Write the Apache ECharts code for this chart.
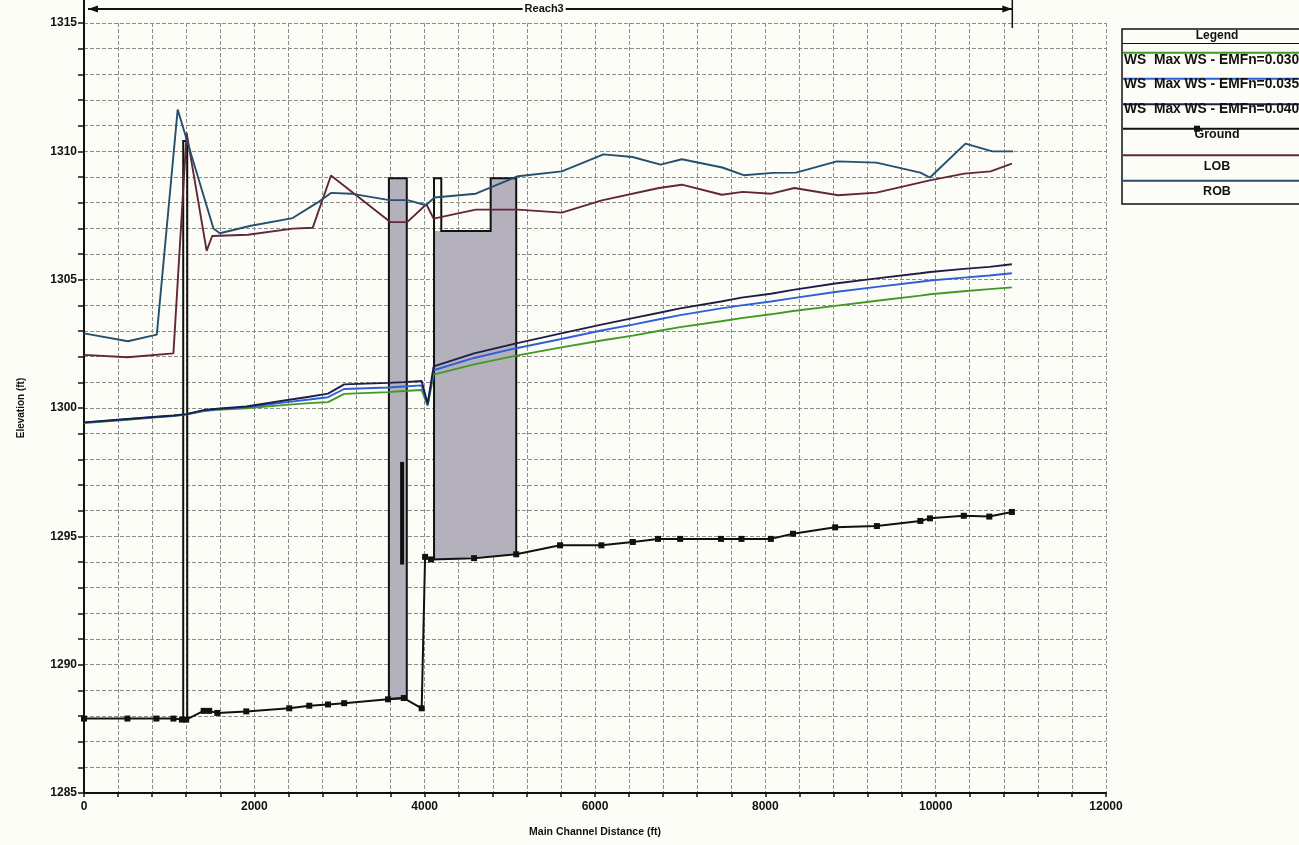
<!DOCTYPE html>
<html>
<head>
<meta charset="utf-8">
<script src="https://cdn.jsdelivr.net/npm/echarts@6/dist/echarts.min.js"></script>
<style>
html,body{margin:0;padding:0;background:#fdfdf8;}
#c{width:1299px;height:845px;}
</style>
</head>
<body>
<div id="c"></div>
<script>
// ---------------- DATA ----------------
const xTicks = [0, 2000, 4000, 6000, 8000, 10000, 12000];
const yTicks = [1285, 1290, 1295, 1300, 1305, 1310, 1315];

const groundX = [0, 510, 850, 1050, 1150, 1200, 1405, 1470, 1565, 1905, 2410, 2645, 2865, 3055, 3570, 3755, 3965, 4005, 4075, 4580, 5075, 5590, 6075, 6444, 6740, 7000, 7480, 7720, 8065, 8325, 8820, 9310, 9820, 9933, 10330, 10630, 10895];
const groundY = [1287.9, 1287.9, 1287.9, 1287.9, 1287.86, 1287.86, 1288.2, 1288.2, 1288.12, 1288.18, 1288.3, 1288.4, 1288.45, 1288.5, 1288.65, 1288.7, 1288.3, 1294.2, 1294.1, 1294.15, 1294.3, 1294.65, 1294.65, 1294.78, 1294.9, 1294.9, 1294.9, 1294.9, 1294.9, 1295.1, 1295.35, 1295.4, 1295.6, 1295.7, 1295.8, 1295.77, 1295.95];

const wsX = [0, 510, 850, 1050, 1200, 1405, 1565, 1905, 2410, 2645, 2865, 3055, 3570, 3755, 3965, 4035, 4105, 4580, 5075, 5590, 6075, 6444, 6740, 7000, 7480, 7720, 8065, 8325, 8820, 9310, 9820, 9933, 10330, 10630, 10895];
const ws040 = [1299.44, 1299.57, 1299.66, 1299.71, 1299.76, 1299.92, 1299.97, 1300.06, 1300.32, 1300.44, 1300.56, 1300.92, 1300.98, 1301.01, 1301.05, 1300.16, 1301.62, 1302.13, 1302.52, 1302.9, 1303.25, 1303.5, 1303.7, 1303.88, 1304.15, 1304.3, 1304.45, 1304.6, 1304.85, 1305.05, 1305.25, 1305.3, 1305.42, 1305.5, 1305.6];
const ws035 = [1299.43, 1299.56, 1299.65, 1299.7, 1299.75, 1299.9, 1299.95, 1300.03, 1300.24, 1300.33, 1300.42, 1300.74, 1300.8, 1300.84, 1300.88, 1300.14, 1301.47, 1301.95, 1302.33, 1302.68, 1303.02, 1303.25, 1303.45, 1303.62, 1303.88, 1304.0, 1304.15, 1304.28, 1304.52, 1304.72, 1304.92, 1304.97, 1305.08, 1305.16, 1305.25];
const ws030 = [1299.41, 1299.54, 1299.64, 1299.69, 1299.74, 1299.88, 1299.93, 1299.99, 1300.13, 1300.19, 1300.23, 1300.55, 1300.62, 1300.66, 1300.7, 1300.08, 1301.3, 1301.7, 1302.04, 1302.35, 1302.63, 1302.82, 1303.0, 1303.15, 1303.38, 1303.5, 1303.65, 1303.78, 1303.98, 1304.18, 1304.38, 1304.43, 1304.55, 1304.63, 1304.7];

const lobX = [0, 510, 1050, 1205, 1440, 1505, 1925, 2450, 2685, 2900, 3600, 3795, 4020, 4105, 4600, 5095, 5610, 6080, 6750, 7020, 7490, 7735, 8070, 8340, 8855, 9305, 9930, 10335, 10645, 10895];
const lobY = [1302.07, 1301.98, 1302.13, 1310.72, 1306.12, 1306.7, 1306.75, 1306.99, 1307.02, 1309.06, 1307.24, 1307.24, 1307.94, 1307.38, 1307.73, 1307.73, 1307.61, 1308.09, 1308.57, 1308.7, 1308.31, 1308.42, 1308.35, 1308.57, 1308.29, 1308.39, 1308.87, 1309.13, 1309.22, 1309.52];

const robX = [0, 515, 855, 1100, 1520, 1595, 1960, 2450, 2740, 2900, 3135, 3585, 3800, 4015, 4115, 4600, 5095, 5610, 6100, 6440, 6770, 7020, 7495, 7745, 8090, 8360, 8840, 9305, 9820, 9933, 10350, 10665, 10910];
const robY = [1302.91, 1302.6, 1302.86, 1311.63, 1306.99, 1306.81, 1307.1, 1307.4, 1308.0, 1308.38, 1308.35, 1308.1, 1308.1, 1307.9, 1308.2, 1308.35, 1309.03, 1309.22, 1309.88, 1309.78, 1309.48, 1309.69, 1309.37, 1309.07, 1309.16, 1309.17, 1309.61, 1309.56, 1309.17, 1308.98, 1310.3, 1310.0, 1310.0];

// structures
const weirX = [1165, 1212];
const weirY = [1287.87, 1310.4];
const bridgeX = [3580, 3790];
const bridgeBottom = [1288.66, 1288.7];
const bridgeTop = 1308.95;
const pierX = 3735;
const pierY = [1293.9, 1297.9];
const culvertX = [4110, 4195, 4775, 5075];
const culvertBottom = [1294.1, 1294.3];
const culvertLowChord = 1306.9;
const culvertTop = 1308.95;

const reachX = [0, 10900];
const reachName = 'Reach3';

const legendNames = ['WS  Max WS - EMFn=0.030', 'WS  Max WS - EMFn=0.035', 'WS  Max WS - EMFn=0.040', 'Ground', 'LOB', 'ROB'];

// ---------------- STYLE ----------------
const BG = '#fdfdf8';
const FONT = '"Liberation Sans", Arial, sans-serif';
const C_WS030 = '#3f9a26';
const C_WS035 = '#2f5fd6';
const C_WS040 = '#1e1e46';
const C_GROUND = '#111111';
const C_LOB = '#62263a';
const C_ROB = '#24506e';
const C_STRUCT = '#b4b1bc';
const legendColors = [C_WS030, C_WS035, C_WS040, C_GROUND, C_LOB, C_ROB];

const zip = (xs, ys) => xs.map((x, i) => [x, ys[i]]);

function renderStructures(params, api) {
  const c = (x, y) => api.coord([x, y]);
  const black = '#111';
  const children = [];
  const w0 = c(weirX[0], weirY[0]), w1 = c(weirX[1], weirY[1]);
  children.push({type: 'rect', shape: {x: w0[0], y: w1[1], width: w1[0] - w0[0], height: w0[1] - w1[1]},
    style: {fill: 'none', stroke: black, lineWidth: 2}});
  children.push({type: 'polygon', shape: {points: [
      c(bridgeX[0], bridgeBottom[0]), c(bridgeX[0], bridgeTop), c(bridgeX[1], bridgeTop), c(bridgeX[1], bridgeBottom[1])]},
    style: {fill: C_STRUCT, stroke: black, lineWidth: 2}});
  const p0 = c(pierX, pierY[0]), p1 = c(pierX, pierY[1]);
  children.push({type: 'line', shape: {x1: p0[0], y1: p0[1], x2: p1[0], y2: p1[1]},
    style: {stroke: black, lineWidth: 4}});
  children.push({type: 'polygon', shape: {points: [
      c(culvertX[0], culvertBottom[0]), c(culvertX[0], culvertLowChord), c(culvertX[2], culvertLowChord),
      c(culvertX[2], culvertTop), c(culvertX[3], culvertTop), c(culvertX[3], culvertBottom[1])]},
    style: {fill: C_STRUCT, stroke: 'none'}});
  children.push({type: 'polyline', shape: {points: [
      c(culvertX[0], culvertBottom[0]), c(culvertX[0], culvertTop), c(culvertX[1], culvertTop),
      c(culvertX[1], culvertLowChord), c(culvertX[2], culvertLowChord), c(culvertX[2], culvertTop),
      c(culvertX[3], culvertTop), c(culvertX[3], culvertBottom[1])]},
    style: {fill: 'none', stroke: black, lineWidth: 2}});
  return {type: 'group', children};
}

const chart = echarts.init(document.getElementById('c'), null, {renderer: 'canvas'});

const labelStyle = {color: '#111', fontWeight: 'bold', fontSize: 12, fontFamily: FONT};
const gridLine = {show: true, lineStyle: {color: '#8c8c8c', type: [4, 2], width: 1}};

const option = {
  backgroundColor: BG,
  animation: false,
  grid: {left: 84, right: 193, top: 23, bottom: 52, containLabel: false},
  xAxis: {
    type: 'value', min: xTicks[0], max: xTicks[xTicks.length - 1], interval: 400,
    axisLine: {show: true, onZero: false, lineStyle: {color: '#111', width: 2}},
    axisTick: {show: true, length: 4, lineStyle: {color: '#111', width: 1.5}},
    axisLabel: Object.assign({margin: 8, formatter: v => xTicks.includes(v) ? String(v) : ''}, labelStyle),
    splitLine: gridLine,
    name: 'Main Channel Distance (ft)', nameLocation: 'middle', nameGap: 34,
    nameTextStyle: {color: '#111', fontWeight: 'bold', fontSize: 10.5, fontFamily: FONT}
  },
  yAxis: {
    type: 'value', min: yTicks[0], max: yTicks[yTicks.length - 1], interval: 1,
    axisLine: {show: true, onZero: false, lineStyle: {color: '#111', width: 2}},
    axisTick: {show: true, length: 6, lineStyle: {color: '#111', width: 1.5}},
    axisLabel: Object.assign({margin: 7, formatter: v => yTicks.includes(v) ? String(v) : ''}, labelStyle),
    splitLine: gridLine,
    name: 'Elevation (ft)', nameLocation: 'middle', nameGap: 58, nameRotate: 90,
    nameTextStyle: {color: '#111', fontWeight: 'bold', fontSize: 10, fontFamily: FONT}
  },
  series: [
    {type: 'custom', name: 'Structures', renderItem: renderStructures, data: [[0, 1290]], z: 1, silent: true},
    {type: 'line', name: legendNames[0], data: zip(wsX, ws030), symbol: 'none', z: 3,
      lineStyle: {color: C_WS030, width: 1.9}},
    {type: 'line', name: legendNames[1], data: zip(wsX, ws035), symbol: 'none', z: 3,
      lineStyle: {color: C_WS035, width: 1.9}},
    {type: 'line', name: legendNames[2], data: zip(wsX, ws040), symbol: 'none', z: 3,
      lineStyle: {color: C_WS040, width: 1.9}},
    {type: 'line', name: legendNames[4], data: zip(lobX, lobY), symbol: 'none', z: 3,
      lineStyle: {color: C_LOB, width: 1.9}},
    {type: 'line', name: legendNames[5], data: zip(robX, robY), symbol: 'none', z: 3,
      lineStyle: {color: C_ROB, width: 1.9}},
    {type: 'line', name: legendNames[3], data: zip(groundX, groundY), symbol: 'rect', symbolSize: 6,
      showAllSymbol: true, z: 4,
      itemStyle: {color: C_GROUND}, lineStyle: {color: C_GROUND, width: 2}}
  ]
};
chart.setOption(option);

// ---------------- overlays: reach bar + legend box ----------------
const els = [];
const rx0 = chart.convertToPixel({xAxisIndex: 0}, reachX[0]);
const rx1 = chart.convertToPixel({xAxisIndex: 0}, reachX[1]);
const ry = 9;
const tipL = rx0 + 4;
els.push({type: 'line', shape: {x1: rx0, y1: 0, x2: rx0, y2: 24}, style: {stroke: '#111', lineWidth: 2}});
els.push({type: 'line', shape: {x1: tipL, y1: ry, x2: rx1, y2: ry}, style: {stroke: '#111', lineWidth: 2}});
els.push({type: 'polygon', shape: {points: [[tipL, ry], [tipL + 10, ry - 3.5], [tipL + 10, ry + 3.5]]}, style: {fill: '#111'}});
els.push({type: 'polygon', shape: {points: [[rx1, ry], [rx1 - 10, ry - 3.5], [rx1 - 10, ry + 3.5]]}, style: {fill: '#111'}});
els.push({type: 'line', shape: {x1: rx1, y1: 0, x2: rx1, y2: 28}, style: {stroke: '#111', lineWidth: 1.5}});
els.push({type: 'text', x: (tipL + rx1) / 2 - 6, y: ry, style: {text: reachName, fill: '#111', font: 'bold 11px ' + FONT,
  align: 'center', verticalAlign: 'middle', backgroundColor: BG, padding: [1, 2]}});

// legend box
const LX = 1122, LT = 29, LB = 204, LW = 200;
els.push({type: 'rect', shape: {x: LX, y: LT, width: LW, height: LB - LT}, style: {fill: BG, stroke: '#111', lineWidth: 1.5}, z: 10});
els.push({type: 'text', x: 1217, y: 36, style: {text: 'Legend', fill: '#111', font: 'bold 12px ' + FONT, align: 'center', verticalAlign: 'middle'}, z: 11});
els.push({type: 'line', shape: {x1: LX, y1: 43.5, x2: LX + LW, y2: 43.5}, style: {stroke: '#111', lineWidth: 1}, z: 11});
const sampleY = [52.7, 78.7, 104.3, 128.7, 155.3, 180.7];
const textY = [60, 84.5, 109.5, 135, 167, 192];
legendNames.forEach((n, i) => {
  els.push({type: 'line', shape: {x1: LX + 1, y1: sampleY[i], x2: LX + LW, y2: sampleY[i]},
    style: {stroke: legendColors[i], lineWidth: 2}, z: 11});
  const isWS = i < 3;
  els.push({type: 'text', x: isWS ? LX + 2 : 1217, y: textY[i],
    style: {text: n, fill: '#111', font: (isWS ? 'bold 13.8px ' : 'bold 12.5px ') + FONT,
      align: isWS ? 'left' : 'center', verticalAlign: 'middle'}, z: 11});
});
els.push({type: 'rect', shape: {x: 1194, y: sampleY[3] - 3, width: 6, height: 6}, style: {fill: C_GROUND}, z: 12});

chart.setOption({graphic: {elements: els}});
</script>
</body>
</html>
